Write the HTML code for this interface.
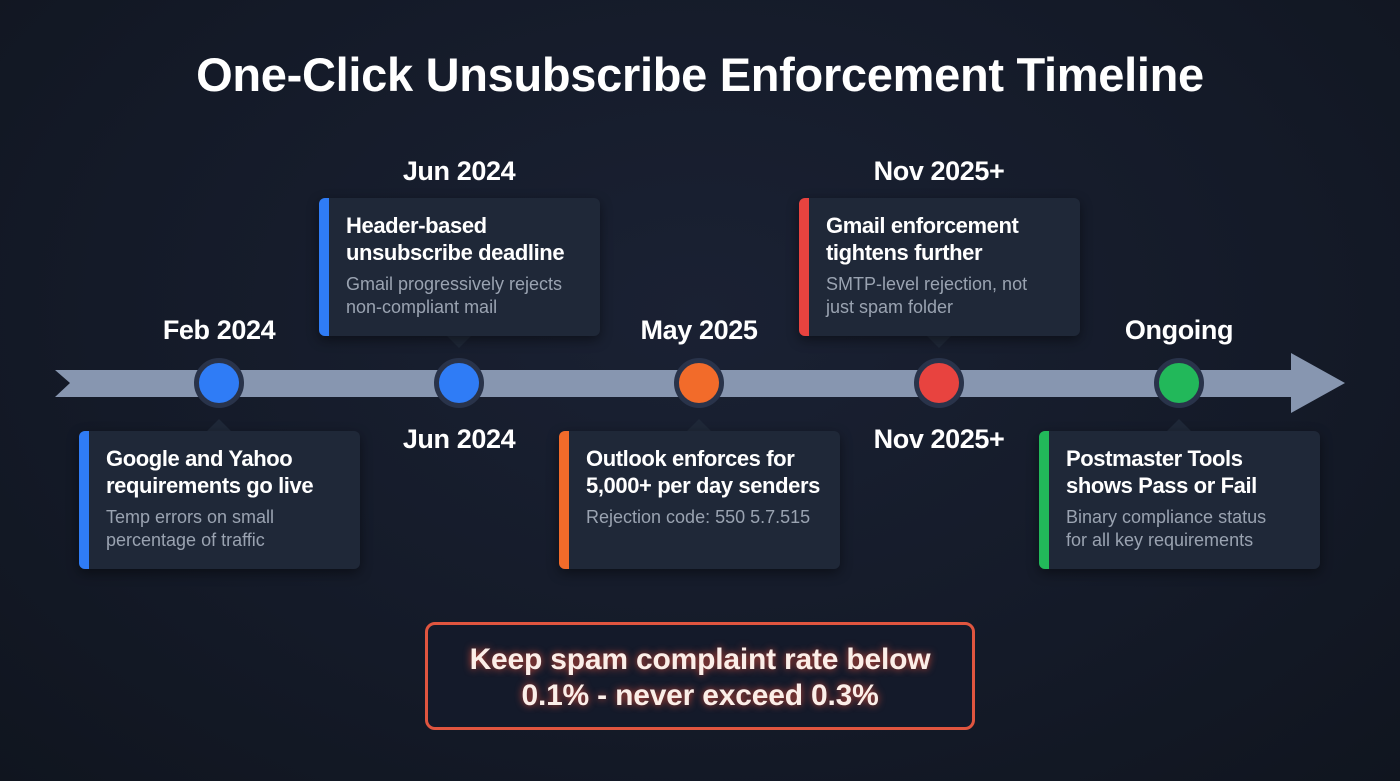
<!DOCTYPE html>
<html><head><meta charset="utf-8">
<style>
body{margin:0;width:1400px;height:781px;overflow:hidden;background:radial-gradient(ellipse at 50% 40%,#1a2133 0%,#141a28 60%,#10151f 100%);font-family:"Liberation Sans",sans-serif;position:relative;color:#fff}
.title{position:absolute;left:0;width:1400px;top:47px;text-align:center;font-size:47px;font-weight:bold;letter-spacing:-0.3px}
.date{position:absolute;width:260px;margin-left:-130px;text-align:center;font-size:27px;font-weight:bold;letter-spacing:-0.4px}
.card{position:absolute;width:281px;height:138px;background:#1f2838;border-radius:6px;box-shadow:0 4px 12px rgba(0,0,0,.45);box-sizing:border-box;padding:14px 6px 0 27px}
.card .bar{position:absolute;left:0;top:0;bottom:0;width:10px;border-radius:6px 0 0 6px}
.card h3{margin:0;font-size:22px;line-height:27px;font-weight:bold;letter-spacing:-0.4px;white-space:nowrap}
.card p{margin:7px 0 0;font-size:18px;line-height:23px;color:#9aa3b1;white-space:nowrap}
.ptr{position:absolute;width:0;height:0;border-left:12px solid transparent;border-right:12px solid transparent}
.node{position:absolute;width:40px;height:40px;margin:-25px 0 0 -25px;border-radius:50%;border:5px solid #29334a}
.callout{position:absolute;left:425px;top:622px;width:550px;height:108px;box-sizing:border-box;border:3px solid #e0553f;border-radius:10px;background:#141a2a;text-align:center;padding-top:17px;font-size:30px;line-height:36px;font-weight:bold;color:#fbeee8;text-shadow:0 0 8px rgba(230,80,60,.9);letter-spacing:-0.2px}
</style></head><body>
<div class="title">One-Click Unsubscribe Enforcement Timeline</div>
<svg width="1400" height="781" style="position:absolute;left:0;top:0">
<polygon points="55,370 1291,370 1291,353 1345,383 1291,413 1291,397 55,397 70,383" fill="#8796b0"/>
</svg>
<div id="root"></div>
<div class="callout">Keep spam complaint rate below<br>0.1% - never exceed 0.3%</div>
<script>
const dates=["Feb 2024","Jun 2024","May 2025","Nov 2025+","Ongoing"];
const titleLines=[["Google and Yahoo","requirements go live"],["Header-based","unsubscribe deadline"],["Outlook enforces for","5,000+ per day senders"],["Gmail enforcement","tightens further"],["Postmaster Tools","shows Pass or Fail"]];
const descLines=[["Temp errors on small","percentage of traffic"],["Gmail progressively rejects","non-compliant mail"],["Rejection code: 550 5.7.515"],["SMTP-level rejection, not","just spam folder"],["Binary compliance status","for all key requirements"]];
const colors=["#2f7cf6","#2f7cf6","#f26b2a","#e8433f","#22b85a"];
const positions=["below","above","below","above","below"];
const root=document.getElementById('root');
const X0=219,DX=240,Y=383;
dates.forEach((d,i)=>{
  const x=X0+DX*i;
  const node=document.createElement('div');node.className='node';
  
  
  node.style.left=x+'px';node.style.top=Y+'px';node.style.background=colors[i];root.appendChild(node);
  const card=document.createElement('div');card.className='card';
  
  
  card.style.left=(x-140)+'px';
  const ptr=document.createElement('div');ptr.className='ptr';ptr.style.left=(x-12)+'px';
  const l1=document.createElement('div');l1.className='date';l1.textContent=d;
  
  
  l1.style.left=x+'px';
  root.appendChild(l1);
  if(positions[i]==='below'){
    card.style.top='431px';ptr.style.top='419px';ptr.style.borderBottom='12px solid #1f2838';
    l1.style.top='315px';
    if(i===0){card.style.left='79px';}
  } else {
    card.style.top='198px';ptr.style.top='336px';ptr.style.borderTop='12px solid #1f2838';
    l1.style.top='156px';
    const l2=document.createElement('div');l2.className='date';l2.textContent=d;
    
    
    l2.style.left=x+'px';l2.style.top='424px';root.appendChild(l2);
  }
  card.innerHTML='<div class="bar" style="background:'+colors[i]+'"></div><h3>'+titleLines[i].join('<br>')+'</h3><p>'+descLines[i].join('<br>')+'</p>';
  root.appendChild(ptr);root.appendChild(card);
});
</script>
</body></html>
